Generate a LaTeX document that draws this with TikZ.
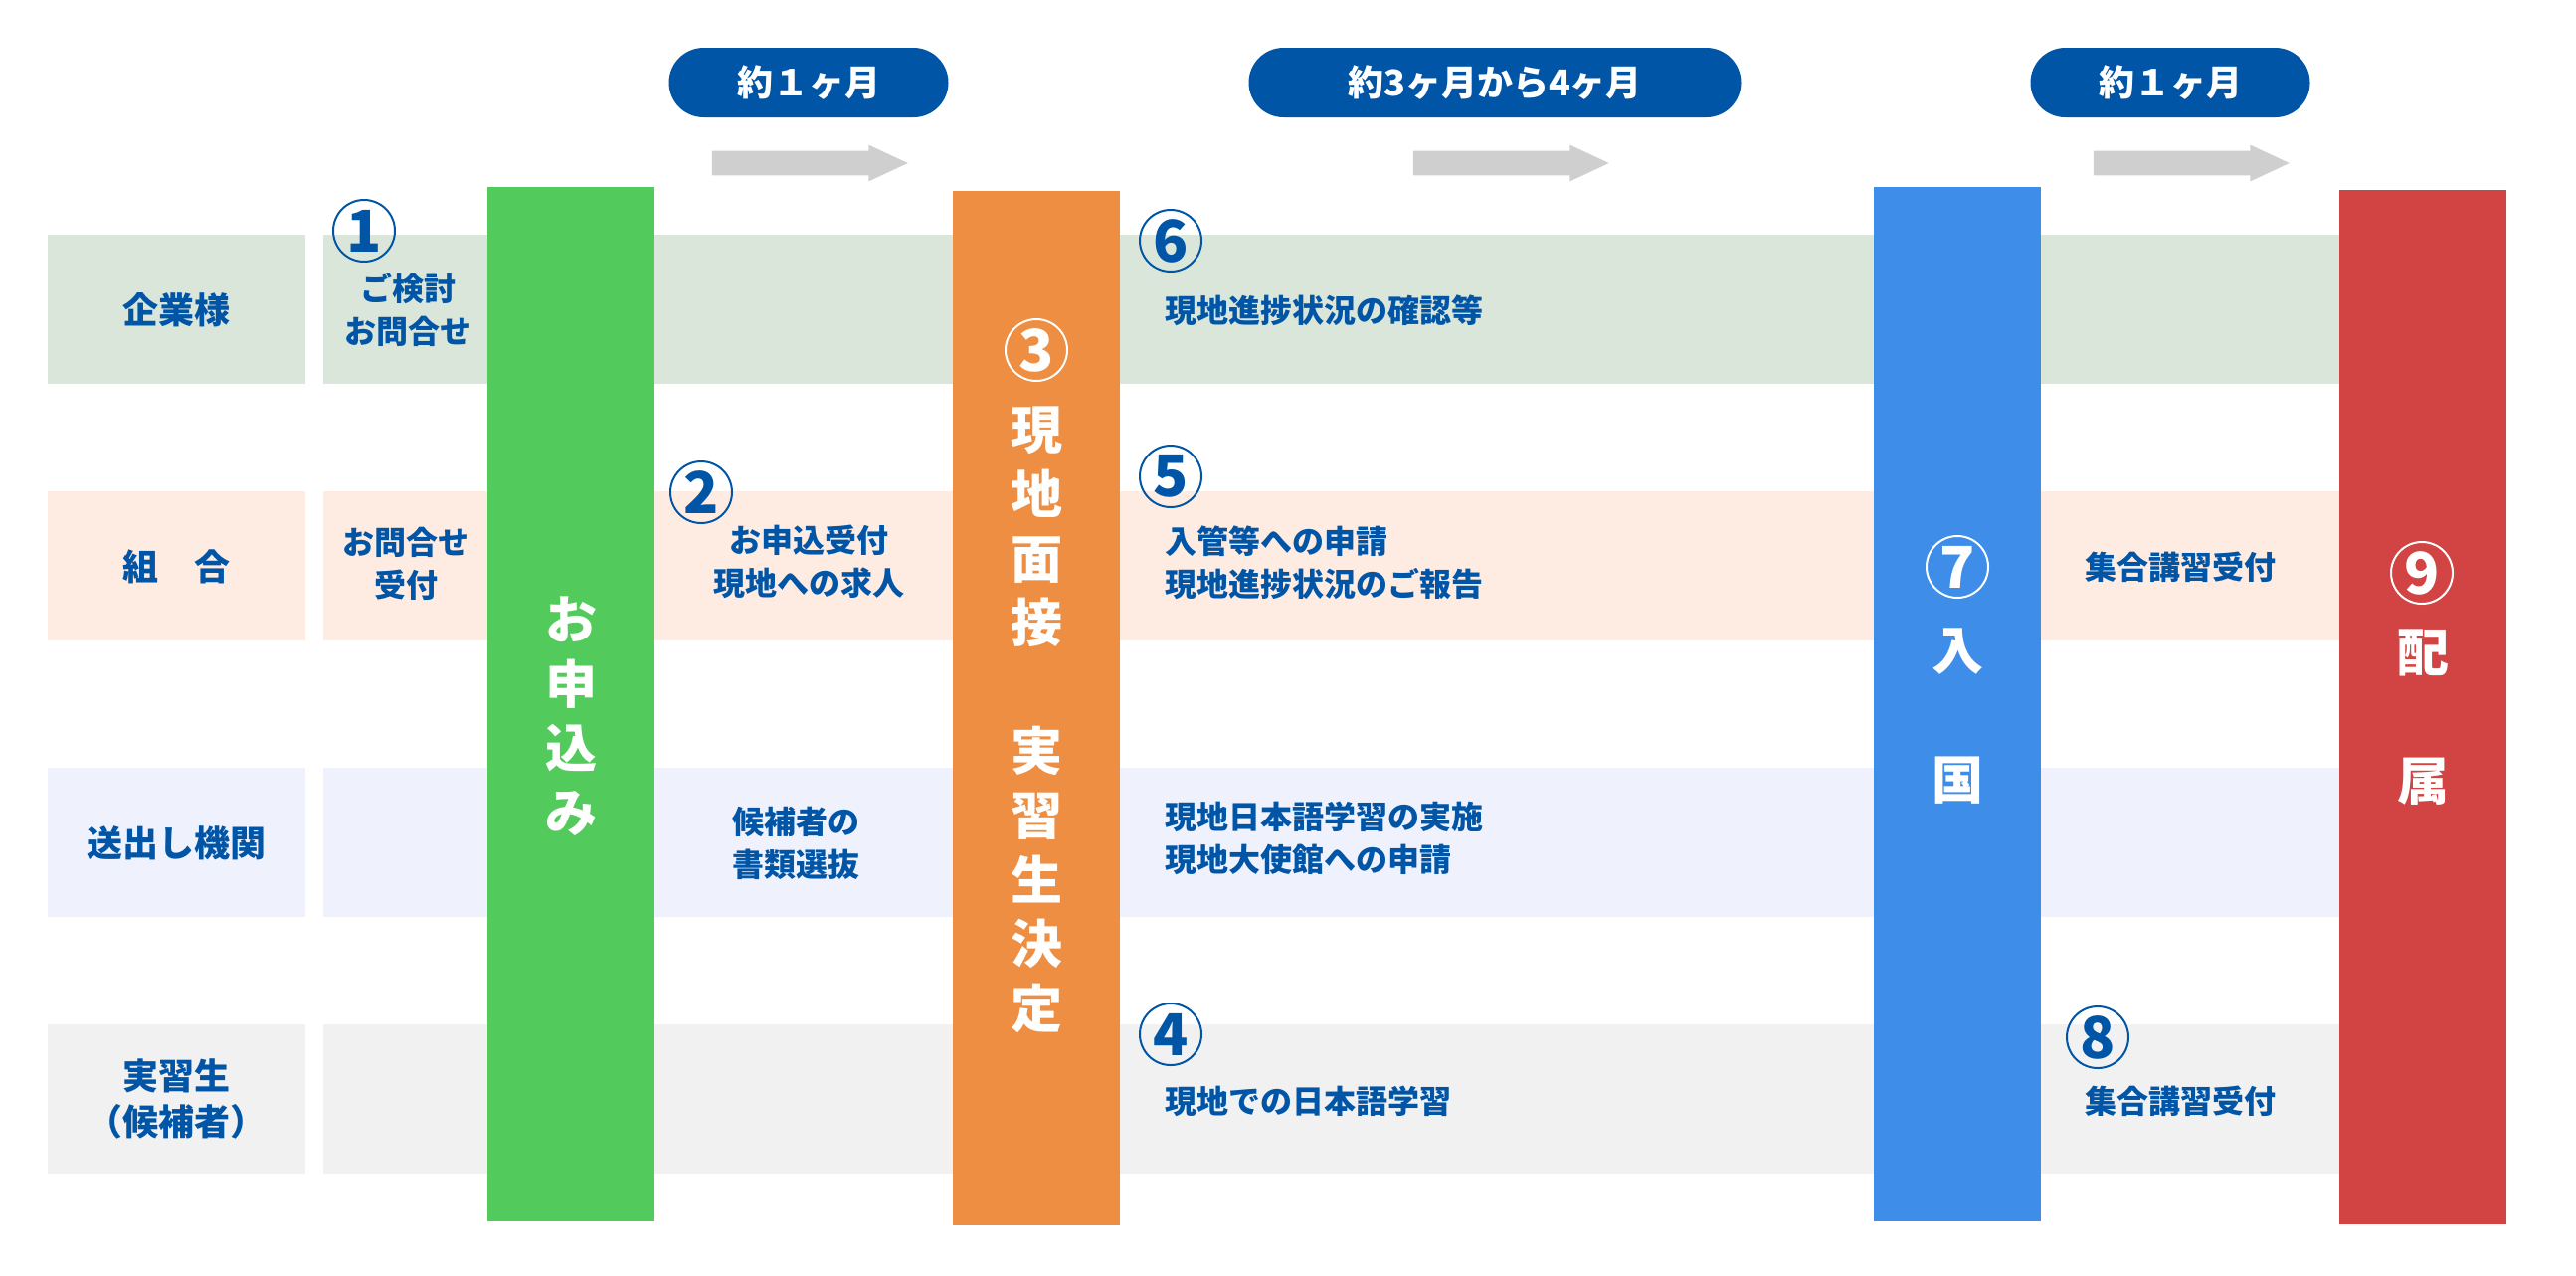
\documentclass[tikz,border=0pt]{standalone}
\usepackage{fontspec}
\setmainfont{Noto Sans CJK JP}
\usepackage{tikz}
\usetikzlibrary{positioning, shapes.arrows}

\definecolor{navy}{HTML}{0055A6}
\definecolor{bandA}{HTML}{DAE6DA}
\definecolor{bandB}{HTML}{FEEBE2}
\definecolor{bandC}{HTML}{EFF2FD}
\definecolor{bandD}{HTML}{F1F1F1}
\definecolor{barG}{HTML}{53CB5C}
\definecolor{barO}{HTML}{EE8E42}
\definecolor{barB}{HTML}{3E8DE8}
\definecolor{barR}{HTML}{D24343}
\definecolor{arrgray}{HTML}{CFCFCF}

\begin{document}
\begin{tikzpicture}[x=0.5pt, y=-0.5pt,
  cell/.style={rectangle, inner sep=0pt, minimum height=75pt, anchor=north west},
  rowhead/.style={cell, minimum width=129.5pt, text=navy, font=\bfseries\fontsize{18}{23}\selectfont, align=center},
  lane/.style={cell, minimum width=1055.5pt},
  bar/.style={rectangle, inner sep=0pt, minimum width=84pt, minimum height=520pt, anchor=north west},
  pill/.style={rectangle, rounded corners=17.5pt, fill=navy, inner sep=0pt, minimum height=35pt, text=white, font=\bfseries\fontsize{18}{18}\selectfont},
  tarr/.style={single arrow, fill=arrgray, inner xsep=0pt, inner ysep=6pt, minimum height=98.5pt, minimum width=18pt, single arrow head extend=3pt, single arrow tip angle=50},
  lbl/.style={text=navy, font=\bfseries\fontsize{16}{21.5}\selectfont, align=center, inner sep=0pt},
  num/.style={circle, draw=navy, line width=1pt, text=navy, inner sep=0pt, minimum size=31pt, font=\bfseries\fontsize{29}{29}\selectfont},
  wnum/.style={num, draw=white, text=white},
  vtext/.style={text=white, font=\bfseries\fontsize{26}{32.3}\selectfont, align=center, inner sep=0pt},
]
  \useasboundingbox (0,0) rectangle (2590,1282);

  \node[rowhead, fill=bandA] (rA) at (48,236) {企業様};
  \node[rowhead, fill=bandB] (rB) at (48,494) {組　合};
  \node[rowhead, fill=bandC] (rC) at (48,772) {送出し機関};
  \node[rowhead, fill=bandD] (rD) at (48,1030) {実習生\\（候補者）};
  \node[lane, fill=bandA] (lA) at (325,236) {};
  \node[lane, fill=bandB] (lB) at (325,494) {};
  \node[lane, fill=bandC] (lC) at (325,772) {};
  \node[lane, fill=bandD] (lD) at (325,1030) {};

  \node[bar, fill=barG] (apply) at (490,188) {};
  \node[bar, fill=barO] (interview) at (958,192) {};
  \node[bar, fill=barB] (entry) at (1884,188) {};
  \node[bar, fill=barR] (assign) at (2352,191) {};

  \node[pill, minimum width=140.5pt] (p1) at (813,83) {約１ヶ月};
  \node[pill, minimum width=247.5pt] (p2) at (1503,83) {約3ヶ月から4ヶ月};
  \node[pill, minimum width=140.5pt] (p3) at (2182,83) {約１ヶ月};
  \node[tarr] (a1) at (801,164) {};
  \node[tarr] (a2) at (1506,164) {};
  \node[tarr] (a3) at (2190,164) {};

  \node[lbl] (t1) at (410,311) {ご検討\\お問合せ};
  \node[lbl] (t2) at (408,567) {お問合せ\\受付};
  \node[lbl] (t3) at (813,565) {お申込受付\\現地への求人};
  \node[lbl] (t4) at (800,848) {候補者の\\書類選抜};
  \node[lbl, anchor=west] (t5) at (1171,312) {現地進捗状況の確認等};
  \node[lbl, anchor=west, align=left] (t6) at (1171,566) {入管等への申請\\現地進捗状況のご報告};
  \node[lbl, anchor=west, align=left] (t7) at (1171,843) {現地日本語学習の実施\\現地大使館への申請};
  \node[lbl, anchor=west] (t8) at (1171,1107) {現地での日本語学習};
  \node[lbl] (t9) at (2192,570) {集合講習受付};
  \node[lbl] (t10) at (2192,1107) {集合講習受付};

  \node[num] (n1) at (366,232) {1};
  \node[num] (n2) at (705,495) {2};
  \node[wnum] (n3) at (1042,352) {3};
  \node[num] (n4) at (1177,1040) {4};
  \node[num] (n5) at (1177,479) {5};
  \node[num] (n6) at (1177,242) {6};
  \node[wnum] (n7) at (1968,570) {7};
  \node[num] (n8) at (2109,1043) {8};
  \node[wnum] (n9) at (2435,576) {9};

  \node[vtext] (vG) at (574,720) {お\\申\\込\\み};
  \node[vtext] (vO) at (1042,724) {現\\地\\面\\接\\[32.3pt]実\\習\\生\\決\\定};
  \node[vtext] (vB) at (1968,720) {入\\[32.3pt]国};
  \node[vtext] (vR) at (2436,721) {配\\[32.3pt]属};
\end{tikzpicture}
\end{document}
